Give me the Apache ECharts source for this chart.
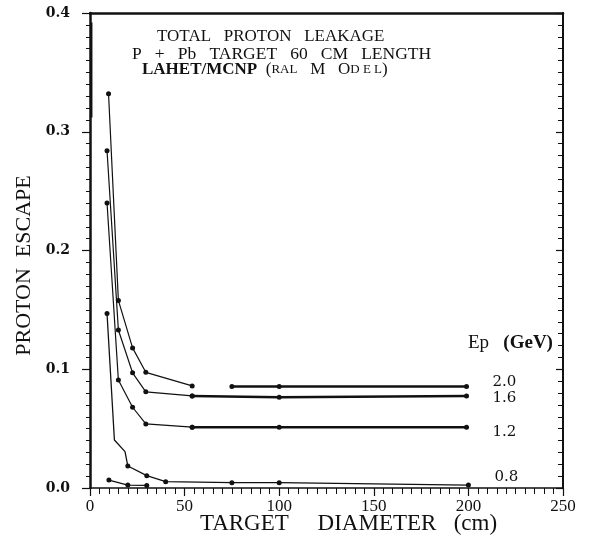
<!DOCTYPE html>
<html><head><meta charset="utf-8">
<script src="https://cdn.jsdelivr.net/npm/echarts@6/dist/echarts.min.js"></script>
<style>html,body{margin:0;padding:0;background:#fff}#c{width:590px;height:539px}</style>
</head><body><div id="c"></div>
<script>
// ---- data ----
const xTicks = [0, 50, 100, 150, 200, 250];
const yTicks = [0.0, 0.1, 0.2, 0.3, 0.4];
const energies = ['2.0', '1.6', '1.2', '0.8'];
const e20Curve = [[9.8,0.332],[15,0.158],[22.5,0.118],[29.5,0.0974],[54,0.086]];
const e20Flat  = [[75,0.0855],[100,0.0855],[199,0.0855]];
const e16Curve = [[9,0.284],[15,0.133],[22.5,0.097],[29.5,0.081],[54,0.0775]];
const e16Flat  = [[54,0.0775],[100,0.0765],[199,0.0775]];
const e12Curve = [[9,0.24],[15,0.091],[22.5,0.068],[29.5,0.054],[54,0.0512]];
const e12Flat  = [[54,0.0512],[100,0.0512],[199,0.0512]];
const e08Curve = [[9,0.147],[12.9,0.0404],[18.5,0.0306],[20,0.0185],[30,0.0104],[40,0.0053],[75,0.0045],[100,0.0045],[200,0.0025]];
const e08Bends = [1, 2];          // vertices of the drawn line that carry no marker
const lowCurve = [[10,0.0067],[20,0.0025],[30,0.0022]];
const edgeTrace = [[0.9,0.392],[0.9,0.312]];

// ---- styling ----
const ink = '#111';
const serif = '"Liberation Serif", "Times New Roman", serif';
const dserif = '"DejaVu Serif", serif';

function lineSeries(data, width, extra) {
  return Object.assign({
    type: 'line', data: data, xAxisIndex: 0, yAxisIndex: 0,
    symbol: 'circle', symbolSize: 5, showSymbol: true,
    itemStyle: { color: ink },
    lineStyle: { color: ink, width: width },
    silent: true, z: 3
  }, extra || {});
}
function endLbl(text, dy) {
  return { endLabel: { show: true, formatter: text, distance: 26, offset: [0, dy],
    fontFamily: dserif, fontSize: 15, color: ink } };
}

const series = [
  lineSeries(e20Curve, 1.2),
  lineSeries(e20Flat, 2.5, endLbl(energies[0], -4)),
  lineSeries(e16Curve, 1.2),
  lineSeries(e16Flat, 2.5, endLbl(energies[1], 2)),
  lineSeries(e12Curve, 1.2),
  lineSeries(e12Flat, 2.5, endLbl(energies[2], 5)),
  lineSeries(e08Curve, 1.3, Object.assign({
    symbol: function (v, p) { return e08Bends.indexOf(p.dataIndex) >= 0 ? 'none' : 'circle'; }
  }, endLbl(energies[3], -8))),
  lineSeries(lowCurve, 1.3),
  lineSeries(edgeTrace, 1.5, { symbol: 'none' })
];

const chart = echarts.init(document.getElementById('c'), null, { renderer: 'canvas' });
chart.setOption({
  animation: false,
  backgroundColor: '#fff',
  grid: { left: 90, right: 27, top: 13, bottom: 51, outerBoundsMode: 'none', containLabel: false },
  xAxis: [{
    type: 'value', position: 'bottom',
    min: xTicks[0], max: xTicks[xTicks.length - 1], interval: xTicks[1] - xTicks[0],
    axisLine: { show: true, onZero: false, lineStyle: { color: ink, width: 1.5 } },
    axisTick: { show: true, inside: false, length: 8, lineStyle: { color: ink, width: 1.2 } },
    minorTick: { show: true, splitNumber: 10, length: 6, lineStyle: { color: ink, width: 1 } },
    axisLabel: { margin: 10, fontFamily: serif, fontSize: 17, color: ink, showMinLabel: true, showMaxLabel: true },
    splitLine: { show: false }, minorSplitLine: { show: false },
    name: 'TARGET     DIAMETER   (cm)', nameLocation: 'middle', nameGap: 24, nameMoveOverlap: false,
    nameTextStyle: { fontFamily: serif, fontSize: 23, color: ink, padding: [0, 0, 0, 44] }
  }, {
    type: 'value', position: 'top',
    min: xTicks[0], max: xTicks[xTicks.length - 1], interval: xTicks[1] - xTicks[0],
    axisLine: { show: true, onZero: false, lineStyle: { color: ink, width: 2.5 } },
    axisTick: { show: false }, axisLabel: { show: false }, splitLine: { show: false }
  }],
  yAxis: [{
    type: 'value', position: 'left',
    min: yTicks[0], max: yTicks[yTicks.length - 1], interval: yTicks[1] - yTicks[0],
    axisLine: { show: true, onZero: false, lineStyle: { color: ink, width: 2.5 } },
    axisTick: { show: true, inside: false, length: 8, lineStyle: { color: ink, width: 1.2 } },
    minorTick: { show: true, splitNumber: 10, length: 4, lineStyle: { color: ink, width: 1 } },
    axisLabel: { margin: 20, fontFamily: dserif, fontWeight: 'bold', fontSize: 14, color: ink,
      formatter: function (v) { return v.toFixed(1); } },
    splitLine: { show: false }, minorSplitLine: { show: false },
    name: 'PROTON  ESCAPE', nameLocation: 'middle', nameGap: 55, nameMoveOverlap: false,
    nameTextStyle: { fontFamily: serif, fontSize: 22, color: ink, padding: [0, 30, 0, 0] }
  }, {
    type: 'value', position: 'right',
    min: yTicks[0], max: yTicks[yTicks.length - 1], interval: yTicks[1] - yTicks[0],
    axisLine: { show: true, onZero: false, lineStyle: { color: ink, width: 2 } },
    axisTick: { show: true, inside: true, length: 7, lineStyle: { color: ink, width: 1.2 } },
    minorTick: { show: true, splitNumber: 10, length: 5, lineStyle: { color: ink, width: 1 } },
    axisLabel: { show: false }, splitLine: { show: false }
  }],
  graphic: [
    { type: 'text', x: 157, y: 37, silent: true,
      style: { text: 'TOTAL   PROTON   LEAKAGE', fontFamily: serif, fontSize: 17, fill: ink, verticalAlign: 'middle' } },
    { type: 'text', x: 132, y: 54, silent: true,
      style: { text: 'P   +   Pb   TARGET   60   CM   LENGTH', fontFamily: serif, fontSize: 17.5, fill: ink, verticalAlign: 'middle' } },
    { type: 'text', x: 142, y: 70, silent: true,
      style: { text: '{b|LAHET/MCNP}{n|  (}{s|RAL}{n|   M   O}{s|D E L}{n|)}', fill: ink, verticalAlign: 'middle',
        rich: {
          b: { fontFamily: serif, fontSize: 17, fontWeight: 'bold', fill: ink },
          n: { fontFamily: serif, fontSize: 17, fill: ink },
          s: { fontFamily: serif, fontSize: 13, fill: ink }
        } } },
    { type: 'text', x: 468, y: 343, silent: true,
      style: { text: '{n|Ep   }{b|(GeV)}', fill: ink, verticalAlign: 'middle',
        rich: {
          n: { fontFamily: serif, fontSize: 19, fill: ink },
          b: { fontFamily: serif, fontSize: 19, fontWeight: 'bold', fill: ink }
        } } }
  ],
  series: series
});
</script>
</body></html>
